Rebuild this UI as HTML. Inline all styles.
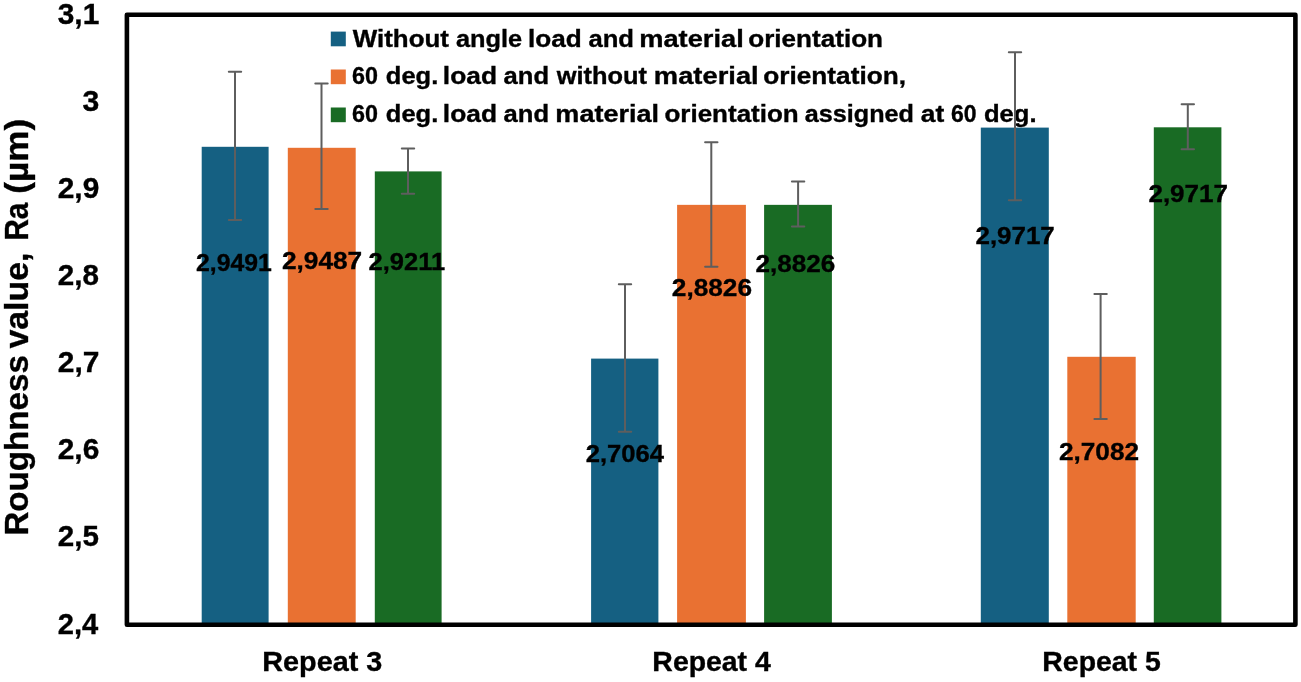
<!DOCTYPE html>
<html lang="en"><head><meta charset="utf-8"><title>Roughness value chart</title>
<style>html,body{margin:0;padding:0;background:#fff;}body{width:1301px;height:682px;overflow:hidden;}svg{display:block;will-change:transform;filter:blur(0.5px);}text{font-family:"Liberation Sans", sans-serif;font-weight:700;fill:#000;stroke:#000;stroke-width:0.35px;}</style></head><body>
<svg width="1301" height="682" viewBox="0 0 1301 682">
<rect x="0" y="0" width="1301" height="682" fill="#ffffff"/>
<rect x="330.8" y="31.6" width="15" height="14.7" fill="#156082"/>
<rect x="330.8" y="69.5" width="15" height="14.7" fill="#E97132"/>
<rect x="330.8" y="107.5" width="15" height="14.7" fill="#196B24"/>
<text y="46.80" font-size="23.8"><tspan x="352.85" textLength="96.10" lengthAdjust="spacingAndGlyphs">Without</tspan> <tspan x="456.03" textLength="66.21" lengthAdjust="spacingAndGlyphs">angle</tspan> <tspan x="527.93" textLength="53.77" lengthAdjust="spacingAndGlyphs">load</tspan> <tspan x="588.42" textLength="45.62" lengthAdjust="spacingAndGlyphs">and</tspan> <tspan x="639.20" textLength="104.58" lengthAdjust="spacingAndGlyphs">material</tspan> <tspan x="748.31" textLength="134.71" lengthAdjust="spacingAndGlyphs">orientation</tspan></text>
<text y="84.00" font-size="23.8"><tspan x="352.03" textLength="25.95" lengthAdjust="spacingAndGlyphs">60</tspan> <tspan x="385.85" textLength="52.40" lengthAdjust="spacingAndGlyphs">deg.</tspan> <tspan x="442.89" textLength="54.13" lengthAdjust="spacingAndGlyphs">load</tspan> <tspan x="503.63" textLength="45.50" lengthAdjust="spacingAndGlyphs">and</tspan> <tspan x="556.76" textLength="90.22" lengthAdjust="spacingAndGlyphs">without</tspan> <tspan x="653.87" textLength="104.83" lengthAdjust="spacingAndGlyphs">material</tspan> <tspan x="763.28" textLength="142.71" lengthAdjust="spacingAndGlyphs">orientation,</tspan></text>
<text y="121.90" font-size="23.8"><tspan x="352.03" textLength="25.95" lengthAdjust="spacingAndGlyphs">60</tspan> <tspan x="385.85" textLength="52.40" lengthAdjust="spacingAndGlyphs">deg.</tspan> <tspan x="442.89" textLength="54.13" lengthAdjust="spacingAndGlyphs">load</tspan> <tspan x="503.63" textLength="45.50" lengthAdjust="spacingAndGlyphs">and</tspan> <tspan x="555.38" textLength="103.71" lengthAdjust="spacingAndGlyphs">material</tspan> <tspan x="664.41" textLength="134.35" lengthAdjust="spacingAndGlyphs">orientation</tspan> <tspan x="804.83" textLength="109.10" lengthAdjust="spacingAndGlyphs">assigned</tspan> <tspan x="920.89" textLength="23.44" lengthAdjust="spacingAndGlyphs">at</tspan> <tspan x="950.95" textLength="25.59" lengthAdjust="spacingAndGlyphs">60</tspan> <tspan x="983.92" textLength="52.59" lengthAdjust="spacingAndGlyphs">deg.</tspan></text>
<rect x="201.70" y="146.80" width="66.90" height="478.00" fill="#156082"/>
<rect x="287.80" y="147.80" width="67.90" height="477.00" fill="#E97132"/>
<rect x="374.80" y="171.40" width="66.80" height="453.40" fill="#196B24"/>
<rect x="591.10" y="358.60" width="67.30" height="266.20" fill="#156082"/>
<rect x="677.10" y="204.85" width="68.80" height="419.95" fill="#E97132"/>
<rect x="764.10" y="204.85" width="67.80" height="419.95" fill="#196B24"/>
<rect x="980.80" y="127.60" width="68.00" height="497.20" fill="#156082"/>
<rect x="1067.30" y="356.80" width="68.40" height="268.00" fill="#E97132"/>
<rect x="1153.80" y="127.30" width="67.60" height="497.50" fill="#196B24"/>
<rect x="126.90" y="14.80" width="1168.50" height="610.00" fill="none" stroke="#000" stroke-width="4.60" stroke-linejoin="round"/>
<path d="M235.00 71.80 V220.00 M228.80 71.80 H241.20 M228.80 220.00 H241.20" stroke="#5e5e5e" stroke-width="2.0" stroke-linecap="round" fill="none"/>
<path d="M321.50 83.40 V209.00 M315.30 83.40 H327.70 M315.30 209.00 H327.70" stroke="#5e5e5e" stroke-width="2.0" stroke-linecap="round" fill="none"/>
<path d="M408.00 148.60 V193.65 M401.80 148.60 H414.20 M401.80 193.65 H414.20" stroke="#5e5e5e" stroke-width="2.0" stroke-linecap="round" fill="none"/>
<path d="M625.00 284.20 V431.70 M618.80 284.20 H631.20 M618.80 431.70 H631.20" stroke="#5e5e5e" stroke-width="2.0" stroke-linecap="round" fill="none"/>
<path d="M711.30 142.20 V266.80 M705.10 142.20 H717.50 M705.10 266.80 H717.50" stroke="#5e5e5e" stroke-width="2.0" stroke-linecap="round" fill="none"/>
<path d="M798.10 181.60 V226.40 M791.90 181.60 H804.30 M791.90 226.40 H804.30" stroke="#5e5e5e" stroke-width="2.0" stroke-linecap="round" fill="none"/>
<path d="M1015.00 52.20 V200.30 M1008.80 52.20 H1021.20 M1008.80 200.30 H1021.20" stroke="#5e5e5e" stroke-width="2.0" stroke-linecap="round" fill="none"/>
<path d="M1100.60 294.00 V418.90 M1094.40 294.00 H1106.80 M1094.40 418.90 H1106.80" stroke="#5e5e5e" stroke-width="2.0" stroke-linecap="round" fill="none"/>
<path d="M1187.80 104.20 V149.20 M1181.60 104.20 H1194.00 M1181.60 149.20 H1194.00" stroke="#5e5e5e" stroke-width="2.0" stroke-linecap="round" fill="none"/>
<text x="57.71" y="633.50" font-size="29.00" textLength="40.54" lengthAdjust="spacingAndGlyphs">2,4</text>
<text x="57.83" y="546.36" font-size="29.00" textLength="41.17" lengthAdjust="spacingAndGlyphs">2,5</text>
<text x="57.77" y="459.21" font-size="29.00" textLength="41.49" lengthAdjust="spacingAndGlyphs">2,6</text>
<text x="57.75" y="372.07" font-size="29.00" textLength="41.58" lengthAdjust="spacingAndGlyphs">2,7</text>
<text x="57.81" y="284.93" font-size="29.00" textLength="41.21" lengthAdjust="spacingAndGlyphs">2,8</text>
<text x="57.76" y="197.79" font-size="29.00" textLength="41.54" lengthAdjust="spacingAndGlyphs">2,9</text>
<text x="82.56" y="110.64" font-size="29.00" textLength="16.78" lengthAdjust="spacingAndGlyphs">3</text>
<text x="57.76" y="23.50" font-size="29.00" textLength="41.54" lengthAdjust="spacingAndGlyphs">3,1</text>
<text x="262.35" y="671.10" font-size="26.90" textLength="119.87" lengthAdjust="spacingAndGlyphs">Repeat 3</text>
<text x="652.39" y="671.10" font-size="26.90" textLength="118.34" lengthAdjust="spacingAndGlyphs">Repeat 4</text>
<text x="1042.38" y="671.10" font-size="26.90" textLength="118.29" lengthAdjust="spacingAndGlyphs">Repeat 5</text>
<text x="195.97" y="271.20" font-size="24.40" textLength="75.78" lengthAdjust="spacingAndGlyphs">2,9491</text>
<text x="282.00" y="269.30" font-size="24.40" textLength="80.21" lengthAdjust="spacingAndGlyphs">2,9487</text>
<text x="368.59" y="269.50" font-size="24.40" textLength="76.47" lengthAdjust="spacingAndGlyphs">2,9211</text>
<text x="585.70" y="461.80" font-size="24.40" textLength="78.25" lengthAdjust="spacingAndGlyphs">2,7064</text>
<text x="671.80" y="296.00" font-size="24.40" textLength="80.25" lengthAdjust="spacingAndGlyphs">2,8826</text>
<text x="755.47" y="271.50" font-size="24.40" textLength="79.88" lengthAdjust="spacingAndGlyphs">2,8826</text>
<text x="975.48" y="243.90" font-size="24.40" textLength="79.25" lengthAdjust="spacingAndGlyphs">2,9717</text>
<text x="1058.98" y="460.00" font-size="24.40" textLength="80.05" lengthAdjust="spacingAndGlyphs">2,7082</text>
<text x="1148.44" y="201.60" font-size="24.40" textLength="79.50" lengthAdjust="spacingAndGlyphs">2,9717</text>
<text transform="translate(27.60 0) rotate(-90)" font-size="33"><tspan x="-535.58" textLength="180.39" lengthAdjust="spacingAndGlyphs">Roughness</tspan> <tspan x="-348.52" textLength="95.93" lengthAdjust="spacingAndGlyphs">value,</tspan> <tspan x="-240.61" textLength="37.99" lengthAdjust="spacingAndGlyphs">Ra</tspan> <tspan x="-193.76" textLength="75.00" lengthAdjust="spacingAndGlyphs">(µm)</tspan></text>
</svg></body></html>
